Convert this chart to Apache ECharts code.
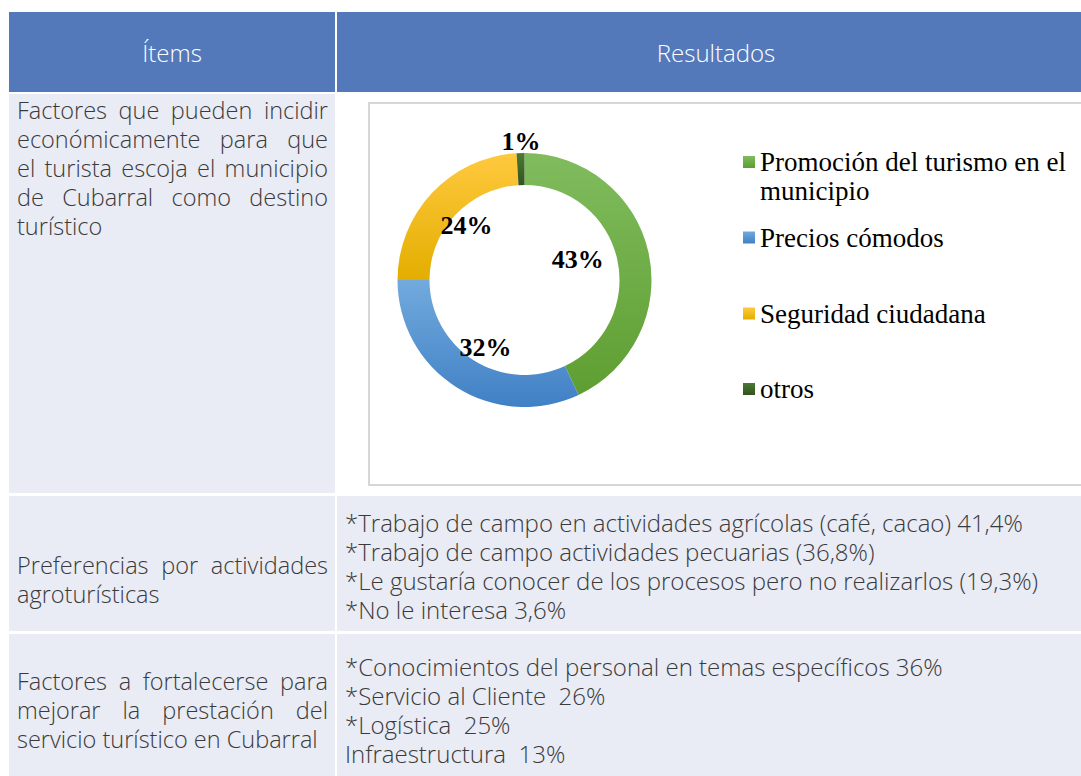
<!DOCTYPE html>
<html><head><meta charset="utf-8">
<script src="https://cdn.jsdelivr.net/npm/echarts@6/dist/echarts.min.js"></script>
<style>
html,body{margin:0;padding:0;width:1081px;height:776px;overflow:hidden;background:#fff;font-family:"Open Sans",sans-serif;}
.cell{position:absolute;box-sizing:border-box;}
.hdr{background:#5479BB;color:#fff;font-weight:300;font-size:24px;display:flex;align-items:center;justify-content:center;}
.lav{background:#E9EBF5;}
.txt{position:absolute;color:#3A3A3A;font-size:24px;font-weight:300;line-height:29px;white-space:pre;}
.left{font-size:23.5px;}
.jl{text-align:justify;text-align-last:justify;white-space:normal;}
.ll{white-space:pre;}
#frame{position:absolute;left:368px;top:102px;width:720px;height:384px;box-sizing:border-box;border:2px solid #D6D6D6;border-right:none;background:#fff;}
#chart{position:absolute;left:368px;top:102px;width:713px;height:384px;}
</style></head>
<body>
<div class="cell hdr" style="left:9px;top:12px;width:326px;height:80px;">Ítems</div>
<div class="cell hdr" style="left:337px;top:12px;width:758px;height:80px;">Resultados</div>

<div class="cell lav" style="left:9px;top:94px;width:326px;height:399px;"></div>
<div class="cell" style="left:337px;top:94px;width:758px;height:399px;background:#fff;"></div>
<div class="cell lav" style="left:9px;top:496px;width:326px;height:135px;"></div>
<div class="cell lav" style="left:337px;top:496px;width:758px;height:135px;"></div>
<div class="cell lav" style="left:9px;top:634px;width:326px;height:150px;"></div>
<div class="cell lav" style="left:337px;top:634px;width:758px;height:150px;"></div>

<div class="txt left" style="left:17px;top:95.5px;width:311px;white-space:normal;">
<div class="jl">Factores que pueden incidir</div>
<div class="jl">económicamente para que</div>
<div class="jl">el turista escoja el municipio</div>
<div class="jl">de Cubarral como destino</div>
<div class="ll">turístico</div>
</div>

<div class="txt left" style="left:17px;top:550.5px;width:311px;white-space:normal;">
<div class="jl">Preferencias por actividades</div>
<div class="ll">agroturísticas</div>
</div>

<div class="txt" style="left:345px;top:507.5px;">*Trabajo de campo en actividades agrícolas (café, cacao) 41,4%
*Trabajo de campo actividades pecuarias (36,8%)
*Le gustaría conocer de los procesos pero no realizarlos (19,3%)
*No le interesa 3,6%</div>

<div class="txt left" style="left:17px;top:666.5px;width:311px;white-space:normal;">
<div class="jl">Factores a fortalecerse para</div>
<div class="jl">mejorar la prestación del</div>
<div class="ll">servicio turístico en Cubarral</div>
</div>

<div class="txt" style="left:345px;top:651.5px;">*Conocimientos del personal en temas específicos 36%
*Servicio al Cliente  26%
*Logística  25%
Infraestructura  13%</div>

<div id="frame"></div>
<div id="chart"></div>

<script>
// ---- data ----
const categories = ['Promoción del turismo en el municipio', 'Precios cómodos', 'Seguridad ciudadana', 'otros'];
const values = [43, 32, 24, 1];

// ---- styles (kept apart from data) ----
const gradTop = ['#80BC5E', '#72AADD', '#FFC93F', '#4B7A32'];
const gradBottom = ['#5E9E31', '#4080C5', '#E3AE00', '#335220'];
const labelOffsets = [[-58, 4], [22, -29], [25, 24], [0, -25]];
const legendTops = [16.5, 121, 197, 272.5];

function grad(i) {
  return new echarts.graphic.LinearGradient(0, 0, 0, 1, [
    { offset: 0, color: gradTop[i] },
    { offset: 1, color: gradBottom[i] }
  ]);
}

const chart = echarts.init(document.getElementById('chart'), null, { renderer: 'svg' });
const serif = '"Liberation Serif", "Times New Roman", serif';

chart.setOption({
  animation: false,
  backgroundColor: 'transparent',
  legend: categories.map((n, i) => ({
    data: [n],
    orient: 'vertical',
    left: 375,
    top: legendTops[i],
    padding: 0,
    itemWidth: 12,
    itemHeight: 12,
    icon: 'rect',
    selectedMode: false,
    // first item wraps onto two lines; a leading empty line keeps its first line level with the icon
    formatter: (name) => (i === 0 ? '\n' + name.replace(' el municipio', ' el\nmunicipio') : name),
    textStyle: {
      fontFamily: serif,
      fontSize: 27,
      color: '#000',
      lineHeight: 29
    }
  })),
  series: [{
    type: 'pie',
    center: [156.5, 178],
    radius: [95, 127],
    startAngle: 90,
    clockwise: true,
    avoidLabelOverlap: false,
    silent: true,
    label: {
      show: true,
      position: 'inside',
      formatter: '{c}%',
      fontFamily: serif,
      fontWeight: 'bold',
      fontSize: 26,
      color: '#000'
    },
    labelLine: { show: false },
    labelLayout: (p) => ({ dx: labelOffsets[p.dataIndex][0], dy: labelOffsets[p.dataIndex][1] }),
    itemStyle: { borderWidth: 0 },
    data: categories.map((n, i) => ({ name: n, value: values[i], itemStyle: { color: grad(i) } }))
  }]
});
</script>
</body></html>
